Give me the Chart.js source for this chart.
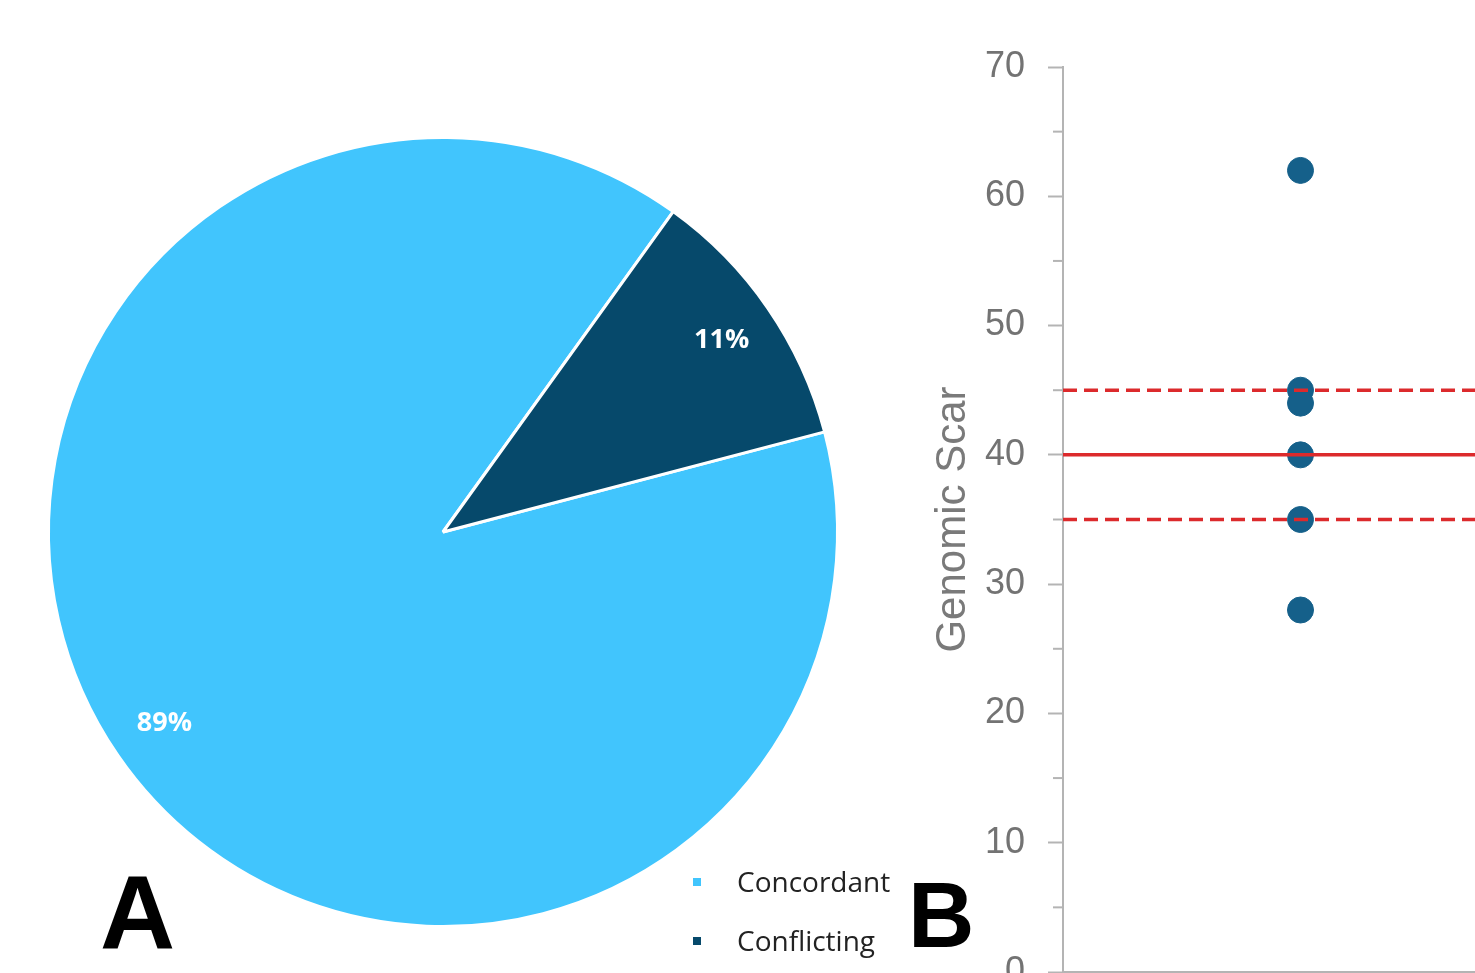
<!DOCTYPE html>
<html>
<head>
<meta charset="utf-8">
<script src="https://cdn.jsdelivr.net/npm/chart.js@4.4.1/dist/chart.umd.min.js"></script>
<style>
  html, body { margin: 0; padding: 0; background: #fff; overflow: hidden; width: 1475px; height: 973px; }
  .box { position: absolute; }
  .panel-letter { position: absolute; font-family: "Liberation Sans", Arial, sans-serif; font-weight: bold; color: #000; line-height: 1; }
  .legend-item { position: absolute; font-family: "Open Sans", sans-serif; font-size: 28px; line-height: 1; color: #222; white-space: nowrap; }
  .legend-swatch { position: absolute; width: 8px; height: 8px; }
</style>
</head>
<body>
<div class="box" style="left:0;top:0;width:900px;height:973px;"><canvas id="pieChart" width="900" height="973"></canvas></div>
<div class="box" style="left:900px;top:0;width:652px;height:1020px;"><canvas id="scarChart" width="652" height="1020"></canvas></div>
<div id="legend"></div>
<div class="panel-letter" style="left:100px;top:860px;font-size:104px;">A</div>
<div class="panel-letter" style="left:908px;top:869px;font-size:92px;">B</div>
<script>
// Panel A - concordance pie
const pieLabels = ['Concordant', 'Conflicting'];
const pieValues = [89, 11];
const pieColors = ['#41c5fd', '#06496b'];

// Panel B - genomic scar scores
const scarX = [1, 1, 1, 1, 1, 1];
const scarY = [62, 45, 44, 40, 35, 28];
const cutoff = 40;
const cutoffUpper = 45;
const cutoffLower = 35;
const lineX = [0, 2];
const yTicksMajor = [0, 10, 20, 30, 40, 50, 60, 70];

// percentage labels inside slices
const sliceLabels = {
    id: 'sliceLabels',
    afterDatasetsDraw(chart) {
        const ctx = chart.ctx;
        const meta = chart.getDatasetMeta(0);
        ctx.save();
        ctx.fillStyle = '#ffffff';
        ctx.font = 'bold 27px "Open Sans", sans-serif';
        ctx.textAlign = 'center';
        ctx.textBaseline = 'middle';
        meta.data.forEach((arc, i) => {
            const p = arc.getProps(['x', 'y', 'startAngle', 'endAngle', 'outerRadius'], true);
            const mid = (p.startAngle + p.endAngle) / 2;
            const r = p.outerRadius * 0.857;
            ctx.fillText(pieValues[i] + '%', p.x + Math.cos(mid) * r, p.y + Math.sin(mid) * r);
        });
        ctx.restore();
    }
};

new Chart(document.getElementById('pieChart'), {
    type: 'pie',
    data: {
        labels: pieLabels,
        datasets: [{
            data: pieValues,
            backgroundColor: pieColors,
            borderColor: '#ffffff',
            borderWidth: 3
        }]
    },
    options: {
        responsive: false,
        animation: false,
        devicePixelRatio: 1,
        rotation: 75.3,
        layout: { padding: { left: 47, top: 136, right: 61, bottom: 45 } },
        plugins: { legend: { display: false }, tooltip: { enabled: false } }
    },
    plugins: [sliceLabels]
});

// legend as plain html
const legend = document.getElementById('legend');
const legendRows = [867, 926];
pieLabels.forEach((label, i) => {
    const sw = document.createElement('div');
    sw.className = 'legend-swatch';
    sw.style.left = '693px';
    sw.style.top = (legendRows[i] + 11) + 'px';
    sw.style.background = pieColors[i];
    legend.appendChild(sw);
    const tx = document.createElement('div');
    tx.className = 'legend-item';
    tx.style.left = '737px';
    tx.style.top = legendRows[i] + 'px';
    tx.textContent = label;
    legend.appendChild(tx);
});

// short minor ticks at the 5s
const minorTicks = {
    id: 'minorTicks',
    afterDraw(chart) {
        const y = chart.scales.y;
        const ctx = chart.ctx;
        ctx.save();
        ctx.strokeStyle = '#b4b4b4';
        ctx.lineWidth = 2;
        y.ticks.forEach(t => {
            if (yTicksMajor.includes(t.value)) return;
            const py = y.getPixelForValue(t.value);
            ctx.beginPath();
            ctx.moveTo(y.right - 10, py);
            ctx.lineTo(y.right, py);
            ctx.stroke();
        });
        ctx.restore();
    }
};

const refLine = (val, dash) => ({
    type: 'line',
    data: lineX.map(x => ({ x: x, y: val })),
    borderColor: '#dc2a2c',
    borderWidth: 3.5,
    borderDash: dash,
    pointRadius: 0,
    fill: false
});

new Chart(document.getElementById('scarChart'), {
    type: 'scatter',
    data: {
        datasets: [
            refLine(cutoffUpper, [14, 7]),
            refLine(cutoff, []),
            refLine(cutoffLower, [14, 7]),
            {
                type: 'scatter',
                data: scarX.map((x, i) => ({ x: x, y: scarY[i] })),
                backgroundColor: '#15608a',
                borderColor: '#15608a',
                pointRadius: 13
            }
        ]
    },
    options: {
        responsive: false,
        animation: false,
        devicePixelRatio: 1,
        layout: { padding: { top: 67, bottom: 48, left: 0, right: 0 } },
        plugins: { legend: { display: false }, tooltip: { enabled: false } },
        scales: {
            x: {
                min: 0,
                max: 2,
                ticks: { display: false },
                grid: { display: false, drawTicks: false },
                border: { color: '#b4b4b4', width: 2 },
                afterFit: s => { s.height = 0; }
            },
            y: {
                min: 0,
                max: 70,
                afterFit: s => { s.width = 163; },
                ticks: {
                    stepSize: 5,
                    padding: 23,
                    color: '#737373',
                    font: { family: '"Liberation Sans", Arial, sans-serif', size: 36 },
                    callback: v => yTicksMajor.includes(v) ? String(v) : ''
                },
                grid: {
                    drawOnChartArea: false,
                    tickLength: 15,
                    tickWidth: 2,
                    tickColor: c => yTicksMajor.includes(c.tick.value) ? '#b4b4b4' : 'rgba(0,0,0,0)'
                },
                border: { color: '#b4b4b4', width: 2 },
                title: {
                    display: true,
                    text: 'Genomic Scar',
                    color: '#7a7a7a',
                    font: { family: '"Liberation Sans", Arial, sans-serif', size: 42 },
                    padding: { top: 28, bottom: 0 }
                }
            }
        }
    },
    plugins: [minorTicks]
});
</script>
</body>
</html>
